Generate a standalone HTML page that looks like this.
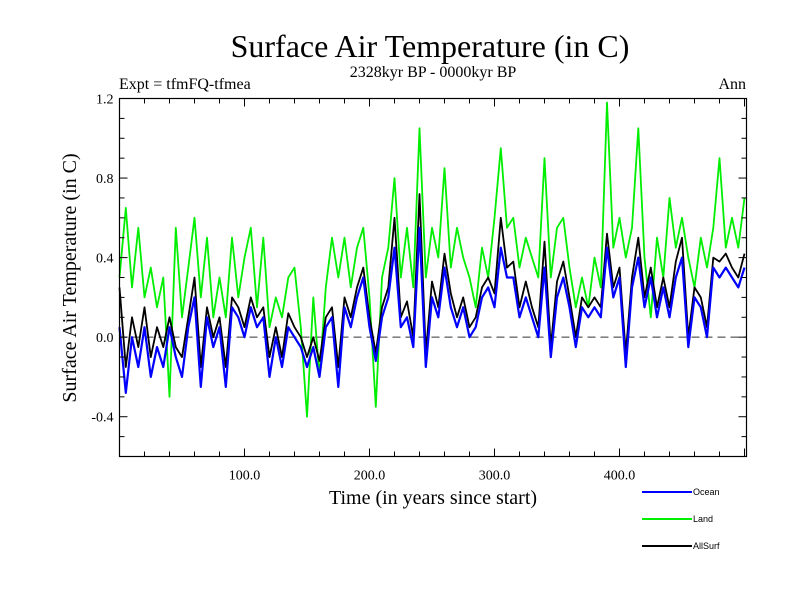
<!DOCTYPE html>
<html><head><meta charset="utf-8"><style>
body{margin:0;background:#fff;}
svg{display:block;font-family:"Liberation Serif",serif;}
</style></head><body>
<svg id="chart" width="800" height="600" xmlns="http://www.w3.org/2000/svg">
<text x="430" y="57" font-size="32" text-anchor="middle">Surface Air Temperature (in C)</text>
<text x="433" y="77" font-size="16" text-anchor="middle">2328kyr BP - 0000kyr BP</text>
<text x="119" y="89" font-size="16">Expt = tfmFQ-tfmea</text>
<text x="746" y="89" font-size="16" text-anchor="end">Ann</text>
<text transform="translate(76,278) rotate(-90)" font-size="20" text-anchor="middle">Surface Air Temperature (in C)</text>
<text x="433" y="504" font-size="20" text-anchor="middle">Time (in years since start)</text>
<g id="plot"></g>
<g id="legend"></g>
</svg>
<script>
const years = [];
for (let i = 0; i <= 100; i++) years.push(i * 5);
const seriesNames = ["Ocean", "Land", "AllSurf"];
const land = [0.3,0.65,0.25,0.55,0.2,0.35,0.15,0.3,-0.3,0.55,
0.1,0.35,0.6,0.2,0.5,0.1,0.3,0.1,0.5,0.2,
0.4,0.55,0.15,0.5,0.05,0.2,0.1,0.3,0.35,0.05,
-0.4,0.2,-0.2,0.25,0.5,0.3,0.5,0.25,0.45,0.55,
0.2,-0.35,0.3,0.45,0.8,0.3,0.55,0.25,1.05,0.3,
0.55,0.4,0.85,0.35,0.55,0.4,0.3,0.15,0.45,0.3,
0.6,0.95,0.55,0.6,0.35,0.5,0.4,0.3,0.9,0.3,
0.55,0.6,0.35,0.15,0.3,0.15,0.4,0.25,1.18,0.45,
0.6,0.4,0.55,1.05,0.4,0.1,0.5,0.3,0.7,0.45,
0.6,0.4,0.25,0.5,0.35,0.55,0.9,0.45,0.6,0.45,0.7];
const ocean = [0.05,-0.28,0.0,-0.15,0.05,-0.2,-0.05,-0.15,0.05,-0.1,
-0.2,0.05,0.2,-0.25,0.1,-0.05,0.05,-0.25,0.15,0.1,
0.0,0.15,0.05,0.1,-0.2,0.0,-0.15,0.05,0.0,-0.05,
-0.15,-0.05,-0.2,0.05,0.1,-0.25,0.15,0.05,0.2,0.3,
0.05,-0.12,0.1,0.2,0.45,0.05,0.1,-0.05,0.55,-0.15,
0.2,0.1,0.35,0.15,0.05,0.15,0.0,0.05,0.2,0.25,
0.15,0.45,0.3,0.3,0.1,0.2,0.1,0.0,0.35,-0.1,
0.2,0.3,0.15,-0.05,0.15,0.1,0.15,0.1,0.45,0.2,
0.3,-0.15,0.25,0.4,0.15,0.3,0.1,0.25,0.1,0.3,
0.4,-0.05,0.2,0.15,0.0,0.35,0.3,0.35,0.3,0.25,0.35];
const allsurf = [0.25,-0.15,0.1,-0.05,0.15,-0.1,0.05,-0.05,0.1,-0.05,
-0.1,0.1,0.3,-0.15,0.15,0.0,0.1,-0.15,0.2,0.15,
0.05,0.2,0.1,0.15,-0.1,0.05,-0.1,0.12,0.05,0.0,
-0.1,0.0,-0.12,0.1,0.15,-0.15,0.2,0.1,0.25,0.35,
0.1,-0.08,0.15,0.25,0.6,0.1,0.18,0.0,0.72,-0.08,
0.28,0.15,0.42,0.22,0.1,0.2,0.05,0.1,0.25,0.3,
0.22,0.6,0.35,0.38,0.15,0.28,0.15,0.05,0.48,-0.05,
0.28,0.38,0.2,0.0,0.2,0.15,0.2,0.15,0.52,0.25,
0.35,-0.08,0.3,0.5,0.2,0.35,0.15,0.3,0.15,0.38,
0.5,0.0,0.25,0.2,0.05,0.4,0.38,0.42,0.35,0.3,0.42];
const yTickValues = [1.2, 0.8, 0.4, 0.0, -0.4];
const yTickLabels = ["1.2", "0.8", "0.4", "0.0", "-0.4"];
const xTickValues = [100, 200, 300, 400];
const xTickLabels = ["100.0", "200.0", "300.0", "400.0"];

const L = 119.5, R = 746.5, T = 98.5, B = 456.5;
const xMin = 0, xMax = 501.6, yMin = -0.6, yMax = 1.2;
function xs(v){ return L + (v - xMin) / (xMax - xMin) * (R - L); }
function ys(v){ return B - (v - yMin) / (yMax - yMin) * (B - T); }
const NS = "http://www.w3.org/2000/svg";
const plot = document.getElementById('plot');
function mk(tag, attrs, parent){ const e = document.createElementNS(NS, tag); for (const k in attrs) e.setAttribute(k, attrs[k]); parent.appendChild(e); return e; }

const zl = mk('line', {x1:L, x2:R, y1:ys(0), y2:ys(0), stroke:'#333', 'stroke-width':1, 'stroke-dasharray':'8,5'}, plot);



const colors = ["#0000ff", "#00ee00", "#000000"];
const data = [ocean, land, allsurf];
const order = [1, 2, 0];
order.forEach(i => {
  const d = data[i].map((v, j) => (j ? 'L' : 'M') + xs(years[j]).toFixed(1) + ',' + ys(v).toFixed(1)).join(' ');
  const p = mk('path', {d: d, fill:'none', stroke: colors[i], 'stroke-width': i === 0 ? 2.2 : 1.8, 'stroke-linejoin':'round'}, plot);
  
  
});

const fr = mk('rect', {x:L, y:T, width:R-L, height:B-T, fill:'none', stroke:'#000', 'stroke-width':1.2}, plot);



for (let v = -0.6; v <= 1.2001; v += 0.1) {
  const major = Math.abs(Math.round(v*10) % 4) === 0;
  const len = major ? 8 : 5;
  const y = ys(v);
  mk('line', {x1:L, x2:L+len, y1:y, y2:y, stroke:'#000'}, plot);
  mk('line', {x1:R, x2:R-len, y1:y, y2:y, stroke:'#000'}, plot);
}
for (let v = 20; v <= 500; v += 20) {
  const major = v % 100 === 0;
  const len = major ? 8 : 5;
  const x = xs(v);
  mk('line', {x1:x, x2:x, y1:B, y2:B-len, stroke:'#000'}, plot);
  mk('line', {x1:x, x2:x, y1:T, y2:T+len, stroke:'#000'}, plot);
}
yTickValues.forEach((v, i) => {
  const t = mk('text', {x:L-6, y:ys(v)+5, 'font-size':14, 'text-anchor':'end'}, plot);
  t.textContent = yTickLabels[i];
  
  
});
xTickValues.forEach((v, i) => {
  const t = mk('text', {x:xs(v), y:B+23, 'font-size':14, 'text-anchor':'middle'}, plot);
  t.textContent = xTickLabels[i];
  
  
});

const lg = document.getElementById('legend');
[0,1,2].forEach((i, k) => {
  const y = 492 + k * 27;
  const ln = mk('line', {x1:642, x2:692, y1:y, y2:y, stroke:colors[i], 'stroke-width':2}, lg);
  
  
  const t = mk('text', {x:693, y:y+3, 'font-size':9, 'font-family':'"Liberation Sans", sans-serif'}, lg);
  t.textContent = seriesNames[i];
  
  
});
</script>
</body></html>
